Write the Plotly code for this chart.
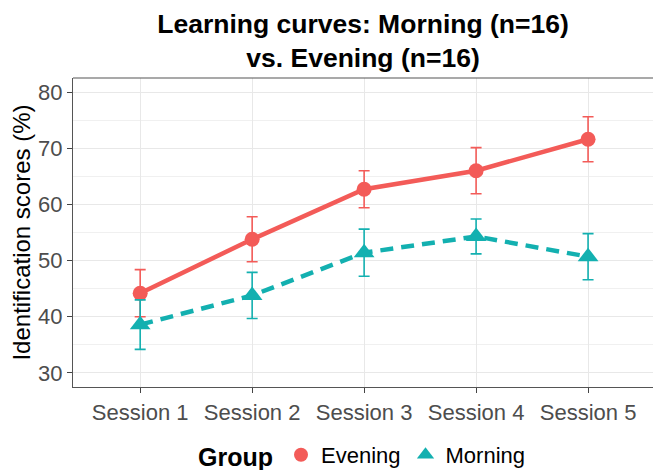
import plotly.graph_objects as go

sessions = ["Session 1", "Session 2", "Session 3", "Session 4", "Session 5"]
evening_mean = [44.2, 53.8, 62.7, 66.0, 71.6]
evening_err = [4.2, 4.0, 3.3, 4.1, 4.0]
morning_mean = [38.6, 43.8, 51.4, 54.3, 50.7]
morning_err = [4.4, 4.1, 4.2, 3.1, 4.1]

RED = "#F35B58"
TEAL = "#13B0B0"
FONT = "Liberation Sans, Arial, sans-serif"

x_idx = list(range(1, len(sessions) + 1))

fig = go.Figure()

fig.add_trace(go.Scatter(
    x=x_idx, y=evening_mean, mode="lines+markers", name="Evening",
    line=dict(color=RED, width=4.5),
    marker=dict(symbol="circle", size=15, color=RED),
    error_y=dict(type="data", array=evening_err, visible=True, color=RED, thickness=1.6, width=5.5),
    showlegend=False,
))
fig.add_trace(go.Scatter(
    x=x_idx, y=morning_mean, mode="lines+markers", name="Morning",
    line=dict(color=TEAL, width=4.5, dash="13px,8px"),
    marker=dict(symbol="triangle-up", size=18, color=TEAL),
    error_y=dict(type="data", array=morning_err, visible=True, color=TEAL, thickness=1.6, width=5.5),
    showlegend=False,
))
# legend-only entries (marker only, like ggplot's point key)
fig.add_trace(go.Scatter(x=[None], y=[None], mode="markers", name="Evening",
                         marker=dict(symbol="circle", size=14, color=RED)))
fig.add_trace(go.Scatter(x=[None], y=[None], mode="markers", name="Morning",
                         marker=dict(symbol="triangle-up", size=15, color=TEAL)))

fig.update_layout(
    width=653, height=470,
    margin=dict(l=73, r=0, t=78, b=83),
    paper_bgcolor="white", plot_bgcolor="white",
    font=dict(family=FONT, color="#000000"),
    title=dict(
        text="<b>Learning curves: Morning (n=16)<br>vs. Evening (n=16)</b>",
        x=0.5, xref="paper", xanchor="center",
        y=0.93, yref="container", yanchor="top",
        font=dict(size=26.5, family=FONT, color="#000000"),
    ),
    xaxis=dict(
        range=[0.4, 5.58],
        tickmode="array", tickvals=x_idx, ticktext=sessions,
        showgrid=True, gridcolor="#E8E8E8", gridwidth=1.2,
        showline=True, linecolor="#555555", linewidth=1.2,
        ticks="outside", ticklen=5, tickcolor="#444444", tickwidth=1.1,
        tickfont=dict(size=22, color="#4D4D4D", family=FONT),
        zeroline=False,
    ),
    yaxis=dict(
        range=[27.5, 82.5],
        tickmode="array", tickvals=[30, 40, 50, 60, 70, 80],
        showgrid=True, gridcolor="#E8E8E8", gridwidth=1.2,
        minor=dict(tickvals=[35, 45, 55, 65, 75], showgrid=True, gridcolor="#F0F0F0", gridwidth=0.7),
        showline=True, linecolor="#555555", linewidth=1.2,
        ticks="outside", ticklen=5, tickcolor="#444444", tickwidth=1.1,
        tickfont=dict(size=22, color="#4D4D4D", family=FONT),
        title=dict(text="Identification scores (%)", font=dict(size=24, color="#000000", family=FONT), standoff=0),
        zeroline=False,
    ),
    legend=dict(
        orientation="h",
        x=0.5, xanchor="center", xref="paper",
        y=0.031, yanchor="middle", yref="container",
        title=dict(text="<b>Group</b>", font=dict(size=25, color="#000000", family=FONT), side="left"),
        font=dict(size=22, color="#000000", family=FONT),
        itemwidth=30,
    ),
    shapes=[dict(type="line", xref="paper", yref="paper", x0=0, x1=1, y0=1, y1=1,
                 line=dict(color="#555555", width=1.2))],
)

fig.write_html("out.html", config={"displayModeBar": False},
               post_script="document.body.style.margin='0';document.body.style.padding='0';")
